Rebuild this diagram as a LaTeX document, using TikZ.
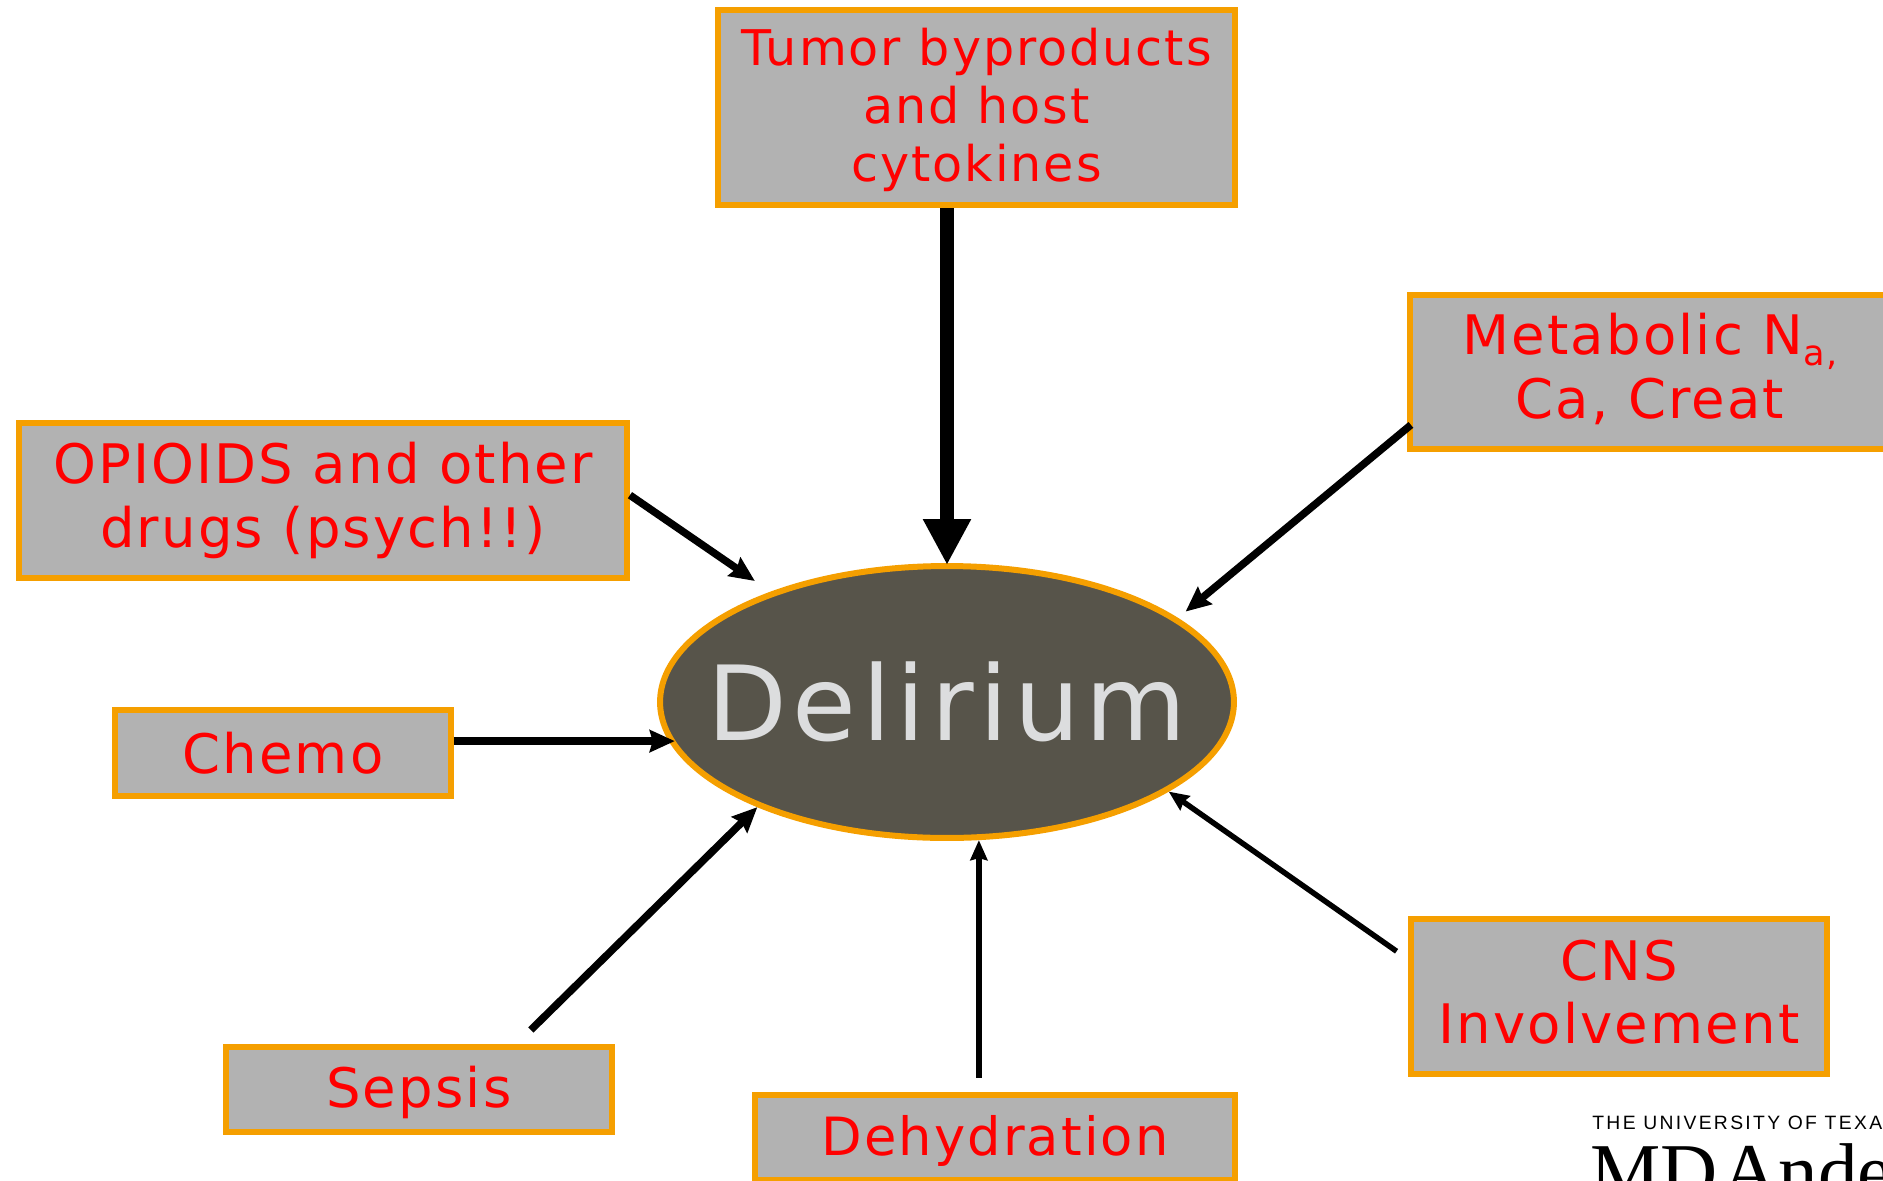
\documentclass[tikz,border=0pt]{standalone}
\usepackage{fontspec}
\setmainfont[LetterSpace=4]{DejaVu Sans}
\newfontfamily\hubfont[LetterSpace=5.5]{DejaVu Sans}
\newfontfamily\logosans{Liberation Sans}
\newfontfamily\logoserif{Liberation Serif}
\usetikzlibrary{positioning,shapes.geometric,arrows.meta}
\definecolor{boxorange}{HTML}{F59F00}
\definecolor{boxgray}{HTML}{B2B2B2}
\definecolor{ovaldark}{HTML}{57544A}
\definecolor{ovaltext}{HTML}{DCDDDE}

\begin{document}
\begin{tikzpicture}[
  x=0.02cm, y=-0.02cm,
  cause/.style={rectangle, draw=boxorange, fill=boxgray, line width=0.12cm,
                inner sep=0pt, align=center, text=red,
                font=\fontsize{31}{36}\selectfont},
  tumorbox/.style={cause, font=\fontsize{28}{33}\selectfont},
  hub/.style={ellipse, draw=boxorange, fill=ovaldark, line width=0.12cm,
              inner sep=0pt, minimum width=11.48cm, minimum height=5.44cm,
              text=ovaltext, font=\hubfont\fontsize{59}{60}\selectfont},
  link/.style={-{Stealth[length=0.5cm, width=0.44cm, inset=0.06cm]}, line width=0.15cm},
  thinlink/.style={-{Stealth[length=0.4cm, width=0.34cm, inset=0.04cm]}, line width=0.11cm}
]
\path[use as bounding box, clip] (0,0) rectangle (1883,1180);
\node[hub] (delirium) at (947,702) {\makebox[0pt]{Delirium}};
\node[tumorbox, minimum width=10.34cm, minimum height=3.9cm] (tumor) at (976.5,107.5)
  {\rule{0pt}{24pt}Tumor byproducts\\and host\\cytokines};
\node[cause, minimum width=9.6cm, minimum height=3.08cm] (metab) at (1650,372)
  {Metabolic N\raisebox{-0.2em}{\fontsize{20}{24}\selectfont a,}\\Ca, Creat\rule[-7pt]{0pt}{7pt}};
\node[cause, minimum width=12.16cm, minimum height=3.1cm] (opioids) at (323,500.5)
  {OPIOIDS and other\\drugs (psych!!)};
\node[cause, minimum width=6.72cm, minimum height=1.72cm] (chemo) at (283,753) {Chemo};
\node[cause, minimum width=7.72cm, minimum height=1.7cm, text height=26.4pt] (sepsis) at (419,1089.5) {Sepsis};
\node[cause, minimum width=9.6cm, minimum height=1.7cm, text height=26.8pt,
      font=\fontsize{30}{36}\selectfont] (dehyd) at (995,1137) {Dehydration};
\node[cause, minimum width=8.32cm, minimum height=3.1cm] (cns) at (1619,996.5)
  {CNS\\Involvement\rule[-5.4pt]{0pt}{5.4pt}};
\node[anchor=base west, inner sep=0pt, font=\logosans\fontsize{11}{13}\selectfont] (logotop) at (1592,1129)
  {\addfontfeature{LetterSpace=12}THE UNIVERSITY OF TEXA};
\node[anchor=base west, inner sep=0pt, font=\logoserif\fontsize{45}{50}\selectfont] (logomain) at (1590,1198)
  {MD\hspace{-0.2em} Ande};
\draw[-{Triangle[length=0.92cm, width=0.9cm]}, line width=0.28cm, shorten >=-0.04cm]
  (delirium.north |- tumor.south) -- (delirium.north);
\draw[link, shorten <=-0.1cm, shorten >=0.2cm] (metab.193) -- (delirium.20);
\draw[link, shorten >=0.38cm] (opioids.1) -- (delirium.148);
\draw[link, shorten >=-0.12cm] (chemo.east |- delirium.188) -- (delirium.188);
\draw[link, shorten <=0.4cm] (sepsis.25) -- (delirium.209);
\draw[thinlink, shorten <=0.28cm] (delirium.283 |- dehyd.north) -- (delirium.283);
\draw[thinlink, shorten <=0.28cm] (cns.170) -- (delirium.338);
\end{tikzpicture}
\end{document}
